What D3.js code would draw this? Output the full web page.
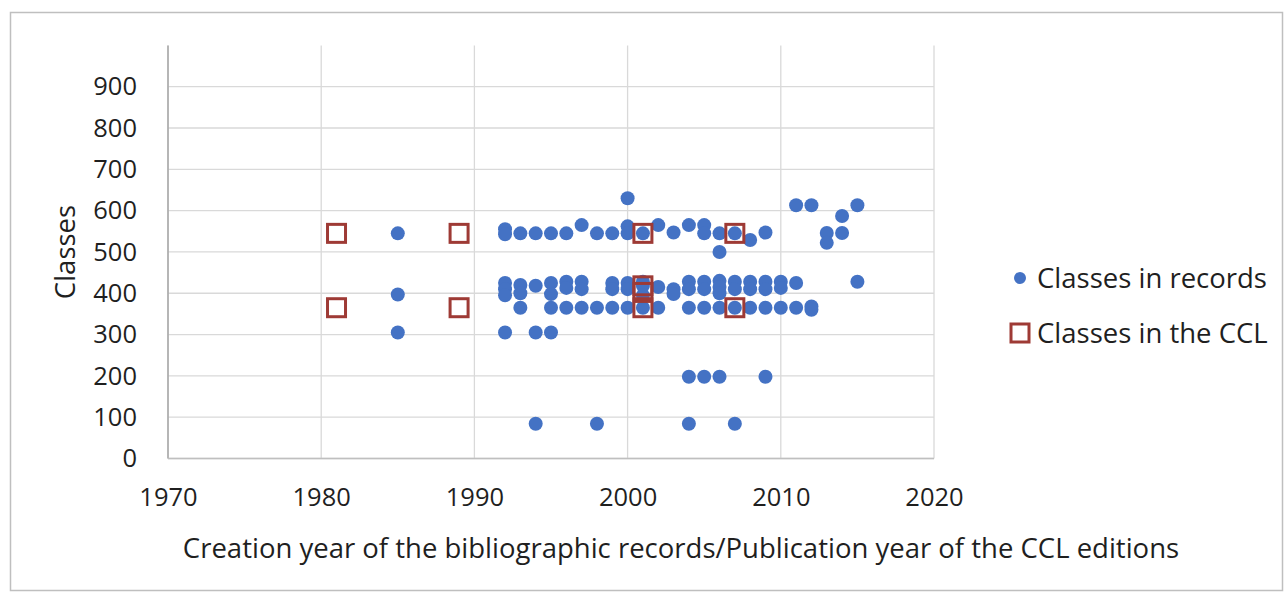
<!DOCTYPE html>
<html>
<head>
<meta charset="utf-8">
<script src="https://cdn.jsdelivr.net/npm/d3@7"></script>
<style>
body { margin: 0; background: #fff; }
svg text { font-family: "Open Sans", sans-serif; fill: #1f1f1f; }
.grid line { stroke: #d9d9d9; stroke-width: 1.3; }
.axis path, .axis line { display: none; }
</style>
</head>
<body>
<div id="canvas-container"></div>
<script>
// year ranges and ticks
var xTicks = [1970, 1980, 1990, 2000, 2010, 2020];
var yTicks = [0, 100, 200, 300, 400, 500, 600, 700, 800, 900];

// Classes in records (year, classes)
var recordYears = [
    1985, 1985, 1985,
    1992, 1992, 1992, 1992, 1992, 1992,
    1993, 1993, 1993, 1993,
    1994, 1994, 1994, 1994,
    1995, 1995, 1995, 1995, 1995,
    1996, 1996, 1996, 1996,
    1997, 1997, 1997, 1997,
    1998, 1998, 1998,
    1999, 1999, 1999, 1999,
    2000, 2000, 2000, 2000, 2000, 2000,
    2001, 2001, 2001, 2001, 2001,
    2002, 2002, 2002,
    2003, 2003, 2003,
    2004, 2004, 2004, 2004, 2004, 2004,
    2005, 2005, 2005, 2005, 2005, 2005,
    2006, 2006, 2006, 2006, 2006, 2006, 2006,
    2007, 2007, 2007, 2007, 2007,
    2008, 2008, 2008, 2008,
    2009, 2009, 2009, 2009, 2009,
    2010, 2010, 2010,
    2011, 2011, 2011,
    2012, 2012, 2012,
    2013, 2013,
    2014, 2014,
    2015, 2015
];
var recordClasses = [
    545, 397, 305,
    555, 543, 425, 410, 395, 305,
    545, 420, 400, 365,
    545, 418, 305, 84,
    545, 425, 398, 365, 305,
    545, 428, 413, 365,
    565, 428, 410, 365,
    545, 365, 84,
    545, 425, 410, 365,
    630, 562, 545, 425, 410, 365,
    545, 428, 418, 395, 365,
    565, 415, 365,
    547, 410, 398,
    565, 428, 410, 365, 198, 84,
    565, 545, 428, 410, 365, 198,
    545, 500, 430, 415, 400, 365, 198,
    545, 428, 410, 365, 84,
    529, 428, 410, 365,
    547, 428, 410, 365, 198,
    428, 413, 365,
    613, 425, 365,
    613, 368, 360,
    546, 522,
    587, 546,
    613, 428
];

// Classes in the CCL (edition year, classes)
var cclYears = [1981, 1981, 1989, 1989, 2001, 2001, 2001, 2001, 2007, 2007];
var cclClasses = [545, 365, 545, 365, 545, 418, 402, 365, 545, 365];

var legendLabels = ["Classes in records", "Classes in the CCL"];

var blue = "#4472c4";
var red = "#9e3a35";

var w = 1284, h = 592;
var pLeft = 168, pRight = 934, pTop = 45.4, pBottom = 458.5;

var svg = d3.select("#canvas-container").append("svg")
    .attr("width", w)
    .attr("height", h);

// outer frame
svg.append("rect")
    .attr("x", 10.5).attr("y", 12.5)
    .attr("width", 1272).attr("height", 578)
    .attr("fill", "none")
    .attr("stroke", "#bfbfbf")
    .attr("stroke-width", 1.5);

var x = d3.scaleLinear().domain([1970, 2020]).range([pLeft, pRight]);
var y = d3.scaleLinear().domain([0, 1000]).range([pBottom, pTop]);

// gridlines
svg.append("g").attr("class", "grid")
    .selectAll("line").data(xTicks).enter().append("line")
    .attr("x1", d => x(d)).attr("x2", d => x(d))
    .attr("y1", y(1000)).attr("y2", y(0));
svg.append("g").attr("class", "grid")
    .selectAll("line").data(yTicks).enter().append("line")
    .attr("x1", x(1970)).attr("x2", x(2020))
    .attr("y1", d => y(d)).attr("y2", d => y(d));

// axis lines
svg.append("line")
    .attr("x1", x(1970)).attr("x2", x(1970))
    .attr("y1", y(1000)).attr("y2", y(0))
    .attr("stroke", "#a6a6a6").attr("stroke-width", 1.5);
svg.append("line")
    .attr("x1", x(1970)).attr("x2", x(2020))
    .attr("y1", y(0)).attr("y2", y(0))
    .attr("stroke", "#bfbfbf").attr("stroke-width", 1.5);

// tick labels
var xAxis = svg.append("g").attr("class", "axis")
    .attr("transform", "translate(0," + (pBottom + 39) + ")")
    .call(d3.axisBottom(x).tickValues(xTicks).tickFormat(d3.format("d")).tickSize(0));
xAxis.selectAll("text").style("font-size", "25.5px").attr("y", 0).attr("dy", "0.35em");

var yAxis = svg.append("g").attr("class", "axis")
    .attr("transform", "translate(" + (pLeft - 31) + ",0)")
    .call(d3.axisLeft(y).tickValues(yTicks).tickSize(0));
yAxis.selectAll("text").style("font-size", "25.5px").attr("x", 0);

// axis titles
svg.append("text")
    .attr("x", 681)
    .attr("y", 548)
    .attr("dy", "0.35em")
    .attr("text-anchor", "middle")
    .style("font-size", "27.5px")
    .text("Creation year of the bibliographic records/Publication year of the CCL editions");

svg.append("text")
    .attr("transform", "translate(65,252) rotate(-90)")
    .attr("dy", "0.35em")
    .attr("text-anchor", "middle")
    .style("font-size", "27.5px")
    .text("Classes");

// records
svg.append("g").selectAll("circle").data(recordYears).enter().append("circle")
    .attr("cx", d => x(d))
    .attr("cy", (d, i) => y(recordClasses[i]))
    .attr("r", 7)
    .attr("fill", blue);

// CCL
var sq = 18;
svg.append("g").selectAll("rect").data(cclYears).enter().append("rect")
    .attr("x", d => x(d) - sq / 2)
    .attr("y", (d, i) => y(cclClasses[i]) - sq / 2)
    .attr("width", sq).attr("height", sq)
    .attr("fill", "none")
    .attr("stroke", red)
    .attr("stroke-width", 3);

// legend
var lg = svg.append("g");
lg.append("circle").attr("cx", 1020).attr("cy", 278).attr("r", 6).attr("fill", blue);
lg.append("rect").attr("x", 1011).attr("y", 324).attr("width", 18).attr("height", 18)
    .attr("fill", "none").attr("stroke", red).attr("stroke-width", 3);
lg.selectAll("text").data(legendLabels).enter().append("text")
    .attr("x", 1037)
    .attr("y", (d, i) => 278 + i * 55)
    .attr("dy", "0.35em")
    .style("font-size", "27.5px")
    .text(d => d);
</script>
</body>
</html>
